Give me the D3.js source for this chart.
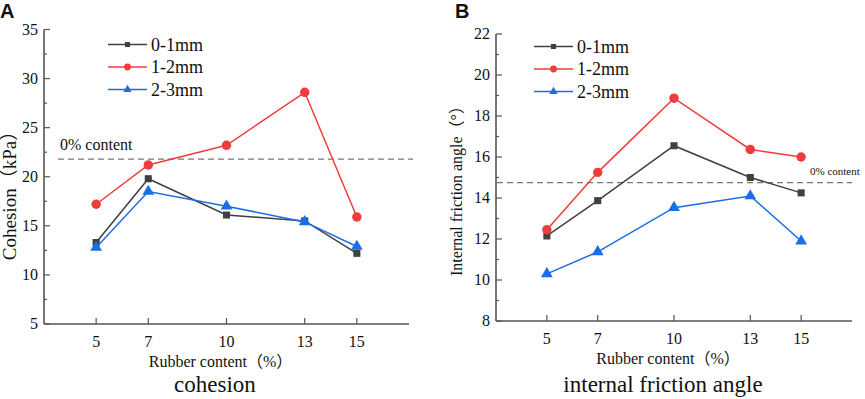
<!DOCTYPE html>
<html>
<head>
<meta charset="utf-8">
<script src="https://cdn.jsdelivr.net/npm/d3@7"></script>
<style>
  body { margin: 0; background: #fff; }
  svg { display: block; }
</style>
</head>
<body>
<div id="chart"></div>
<script>
// 数据
const rubberContent = [5, 7, 10, 13, 15];
const seriesNames = ["0-1mm", "1-2mm", "2-3mm"];

const cohesion01 = [13.3, 19.8, 16.1, 15.5, 12.2];
const cohesion12 = [17.2, 21.2, 23.2, 28.6, 15.9];
const cohesion23 = [12.8, 18.5, 17.0, 15.4, 12.9];
const cohesionBase = 21.8;
const cohesionTicks = [5, 10, 15, 20, 25, 30, 35];

const friction01 = [12.15, 13.87, 16.55, 15.0, 14.25];
const friction12 = [12.45, 15.25, 18.87, 16.37, 16.0];
const friction23 = [10.3, 11.37, 13.53, 14.1, 11.9];
const frictionBase = 14.75;
const frictionTicks = [8, 10, 12, 14, 16, 18, 20, 22];

const colors = ["#404040", "#f03c3c", "#1a6ee6"];
const shapes = [d3.symbolSquare, d3.symbolCircle, d3.symbolTriangle];
const symSizes = [50, 70, 60];
const legendSizes = [26, 36, 30];
const serif = "'Liberation Serif', 'Times New Roman', 'DejaVu Serif', 'Noto Sans CJK SC', serif";

const svg = d3.select("#chart")
    .append("svg")
    .attr("width", 865)
    .attr("height", 399)
    .attr("font-family", serif)
    .attr("fill", "#111");

function drawPanel(o) {
    const g = svg.append("g");

    const x = d3.scaleLinear().domain([3, 17]).range([o.left, o.right]);
    const y = d3.scaleLinear().domain(o.yDomain).range([o.bottom, o.top]);

    // 轴线
    g.append("line")
        .attr("x1", o.left).attr("x2", o.right)
        .attr("y1", o.bottom).attr("y2", o.bottom)
        .attr("stroke", "#555").attr("stroke-width", 1.6);
    g.append("line")
        .attr("x1", o.left).attr("x2", o.left)
        .attr("y1", o.bottom).attr("y2", o.top)
        .attr("stroke", "#555").attr("stroke-width", 1.6);

    // x 刻度
    rubberContent.forEach(v => {
        g.append("line")
            .attr("x1", x(v)).attr("x2", x(v))
            .attr("y1", o.bottom).attr("y2", o.bottom - 6)
            .attr("stroke", "#555").attr("stroke-width", 1.2);
        g.append("text")
            .attr("x", x(v)).attr("y", o.bottom + 23)
            .attr("text-anchor", "middle")
            .attr("font-size", 16)
            .text(v);
    });

    // y 刻度
    const step = o.yTicks[1] - o.yTicks[0];
    o.yTicks.forEach((v, i) => {
        g.append("line")
            .attr("x1", o.left).attr("x2", o.left + 6)
            .attr("y1", y(v)).attr("y2", y(v))
            .attr("stroke", "#555").attr("stroke-width", 1.2);
        g.append("text")
            .attr("x", o.left - 6).attr("y", y(v) + 5)
            .attr("text-anchor", "end")
            .attr("font-size", 16)
            .text(v);
        if (i < o.yTicks.length - 1) {
            const m = v + step / 2;
            g.append("line")
                .attr("x1", o.left).attr("x2", o.left + 3)
                .attr("y1", y(m)).attr("y2", y(m))
                .attr("stroke", "#555").attr("stroke-width", 1.2);
        }
    });

    // 0% 虚线
    g.append("line")
        .attr("x1", o.dashStart).attr("x2", o.dashEnd)
        .attr("y1", y(o.base)).attr("y2", y(o.base))
        .attr("stroke", "#777").attr("stroke-width", 1.2)
        .attr("stroke-dasharray", "6,4");
    g.append("text")
        .attr("x", o.baseLabel[0]).attr("y", o.baseLabel[1])
        .attr("font-size", o.baseLabel[2])
        .text("0% content");

    // 折线
    const line = d3.line()
        .x((d, i) => x(rubberContent[i]))
        .y(d => y(d));

    o.series.forEach((s, k) => {
        g.append("path")
            .datum(s)
            .attr("fill", "none")
            .attr("stroke", colors[k])
            .attr("stroke-width", 1.5)
            .attr("d", line);
        g.selectAll(null)
            .data(s)
            .enter().append("path")
            .attr("transform", (d, i) => `translate(${x(rubberContent[i])},${y(d)})`)
            .attr("d", d3.symbol().type(shapes[k]).size(symSizes[k]))
            .attr("fill", colors[k]);
    });

    // 图例
    seriesNames.forEach((name, k) => {
        const ly = o.legend[1] + k * 22.5;
        g.append("line")
            .attr("x1", o.legend[0]).attr("x2", o.legend[0] + 39)
            .attr("y1", ly).attr("y2", ly)
            .attr("stroke", colors[k]).attr("stroke-width", 1.5);
        g.append("path")
            .attr("transform", `translate(${o.legend[0] + 19.5},${ly})`)
            .attr("d", d3.symbol().type(shapes[k]).size(legendSizes[k]))
            .attr("fill", colors[k]);
        g.append("text")
            .attr("x", o.legend[0] + 43).attr("y", ly + 6)
            .attr("font-size", 18)
            .text(name);
    });

    // 轴标题
    g.append("text")
        .attr("transform", `translate(${o.yLabel[0]},${o.yLabel[1]}) rotate(-90)`)
        .attr("text-anchor", "middle")
        .attr("font-size", o.yLabel[2])
        .text(o.yTitle);
    g.append("text")
        .attr("x", (x(3) + x(17)) / 2 - 6).attr("y", o.bottom + 43)
        .attr("text-anchor", "middle")
        .attr("font-size", 16)
        .text("Rubber content（%）");
    g.append("text")
        .attr("x", o.titleX).attr("y", 392)
        .attr("text-anchor", "middle")
        .attr("font-size", 23)
        .text(o.title);

    g.append("text")
        .attr("x", o.letter).attr("y", 18)
        .attr("font-family", "'Liberation Sans', Arial, sans-serif")
        .attr("font-weight", "bold")
        .attr("font-size", 20)
        .text(o.letterText);
}

drawPanel({
    left: 44, right: 409, top: 29.5, bottom: 324,
    yDomain: [5, 35], yTicks: cohesionTicks,
    series: [cohesion01, cohesion12, cohesion23],
    base: cohesionBase, dashStart: 58, dashEnd: 413,
    baseLabel: [60, 150, 16],
    legend: [108, 44.5],
    yLabel: [16, 191, 19], yTitle: "Cohesion（kPa）",
    titleX: 215, title: "cohesion",
    letter: 0, letterText: "A"
});

drawPanel({
    left: 496, right: 852, top: 34, bottom: 321,
    yDomain: [8, 22], yTicks: frictionTicks,
    series: [friction01, friction12, friction23],
    base: frictionBase, dashStart: 497, dashEnd: 852,
    baseLabel: [810, 175, 11],
    legend: [534, 46.5],
    yLabel: [462, 187, 16], yTitle: "Internal friction angle（°）",
    titleX: 663, title: "internal friction angle",
    letter: 455, letterText: "B"
});
</script>
</body>
</html>
